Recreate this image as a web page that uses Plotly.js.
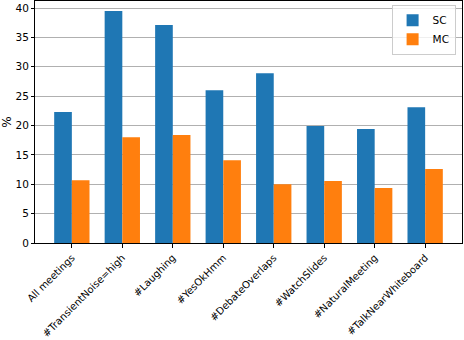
<!DOCTYPE html>
<html>
<head>
<meta charset="utf-8">
<script src="https://cdn.plot.ly/plotly-3.0.1.min.js"></script>
<style>
  body { margin: 0; }
  #chart { width: 464px; height: 340px; }
</style>
</head>
<body>
<div id="chart"></div>
<script>
var categories = ['All meetings', '#TransientNoise=high', '#Laughing', '#YesOkHmm',
  '#DebateOverlaps', '#WatchSlides', '#NaturalMeeting', '#TalkNearWhiteboard'];
var scValues = [22.3, 39.5, 37.1, 26.0, 28.9, 19.9, 19.4, 23.1];
var mcValues = [10.7, 18.0, 18.4, 14.1, 10.0, 10.55, 9.36, 12.6];

var positions = categories.map(function (c, i) { return i; });

var traces = [
  {
    type: 'bar',
    name: 'SC',
    x: positions.map(function (p) { return p - 0.175; }),
    y: scValues,
    width: 0.35,
    marker: { color: '#1f77b4' }
  },
  {
    type: 'bar',
    name: 'MC',
    x: positions.map(function (p) { return p + 0.175; }),
    y: mcValues,
    width: 0.35,
    marker: { color: '#ff7f0e' }
  }
];

var layout = {
  width: 464,
  height: 340,
  margin: { l: 35, r: 2, t: 1, b: 97 },
  font: { family: 'DejaVu Sans', size: 10, color: '#000' },
  paper_bgcolor: '#fff',
  plot_bgcolor: '#fff',
  barmode: 'overlay',
  showlegend: true,
  legend: {
    x: 0.985, y: 0.985, xanchor: 'right', yanchor: 'top',
    bordercolor: '#ccc', borderwidth: 1, bgcolor: 'rgba(255,255,255,0.8)',
    font: { size: 10.5 }
  },
  xaxis: {
    range: [-0.73, 7.73],
    tickvals: positions,
    ticktext: categories,
    tickangle: -45,
    tickfont: { size: 10 },
    ticks: 'outside', ticklen: 4, tickcolor: '#000',
    showline: true, linecolor: '#000', linewidth: 1, mirror: true,
    showgrid: false, zeroline: false, automargin: false
  },
  yaxis: {
    range: [0, 41.2],
    tickvals: [0, 5, 10, 15, 20, 25, 30, 35, 40],
    tickfont: { size: 10.5 },
    ticks: 'outside', ticklen: 3, tickcolor: '#000',
    showline: true, linecolor: '#000', linewidth: 1, mirror: true,
    showgrid: true, gridcolor: '#b0b0b0', gridwidth: 1,
    zeroline: false,
    title: { text: '%', standoff: 6 }
  }
};

Plotly.newPlot('chart', traces, layout, { displayModeBar: false, staticPlot: true });
</script>
</body>
</html>
